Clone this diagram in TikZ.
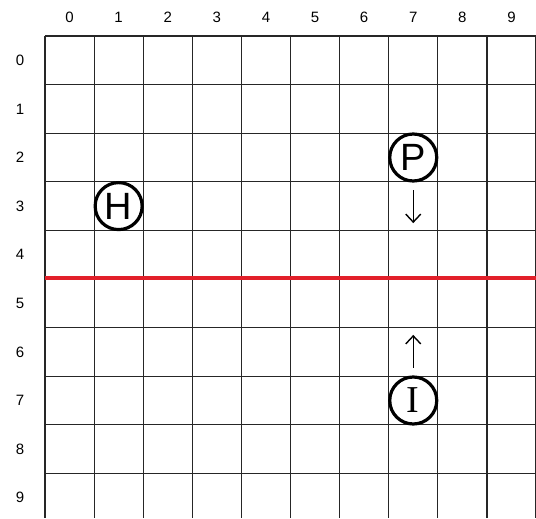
\documentclass[tikz,border=0pt]{standalone}
\usepackage{fontspec}
\setmainfont{Liberation Sans}
\newfontfamily\romanfont{Liberation Serif}
\usetikzlibrary{arrows.meta}
\definecolor{cutred}{RGB}{226,32,42}
\tikzset{
  piece/.style={draw,circle,line width=3.2pt,minimum size=47pt,inner sep=0pt,font=\fontsize{38}{38}\selectfont},
  idx/.style={font=\fontsize{15}{15}\selectfont},
  move/.style={line width=1.4pt,-{Straight Barb[length=8pt,width=15pt]}}
}
\begin{document}
\begin{tikzpicture}[x=49.1pt,y=-48.6pt]
  \useasboundingbox (-0.9165,-0.7407) rectangle (10,9.918);
  \clip (-0.9165,-0.7407) rectangle (10,9.918);
  % grid
  \foreach \i in {0,...,10}
    \draw[line width=1.2pt,black!85] (\i,0) -- (\i,9.918);
  \foreach \j in {0,...,9}
    \draw[line width=1.2pt,black!85] (0,\j) -- (10,\j);
  \foreach \i in {0,...,9} {
    \node[idx] (c\i) at (\i+0.5,-0.39) {\i};
    \node[idx] (r\i) at (-0.51,\i+0.5) {\i};
  }
  % dividing line
  \draw[cutred,line width=3.8pt] (0,4.98) -- (10,4.98);
  % pieces
  \node[piece] (P) at (7.5,2.5) {P};
  \node[piece] (H) at (1.5,3.5) {H};
  \node[piece] (I) at (7.5,7.5) {\romanfont I};
  \coordinate (Pgo) at (7.5,3.17);
  \coordinate (Pto) at (7.5,3.85);
  \coordinate (Igo) at (7.5,6.83);
  \coordinate (Ito) at (7.5,6.15);
  \draw[move] (Pgo) -- (Pto);
  \draw[move] (Igo) -- (Ito);
\end{tikzpicture}
\end{document}
